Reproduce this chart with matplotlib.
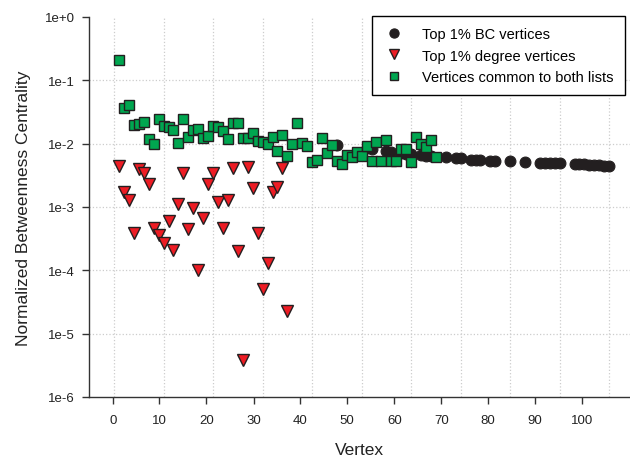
import matplotlib.pyplot as plt
from matplotlib.ticker import FixedLocator, NullFormatter

plt.rcParams['font.family'] = ['Liberation Sans', 'DejaVu Sans']

# vertices common to both lists (rank, normalized BC)
common_rank = list(range(1, 66))
common_bc = [0.21, 0.037, 0.041, 0.020, 0.0205, 0.022, 0.0117, 0.0100, 0.0245, 0.0193,
             0.0185, 0.0164, 0.0104, 0.0243, 0.0126, 0.0165, 0.017, 0.0123, 0.013, 0.0193,
             0.0185, 0.016, 0.0117, 0.021, 0.0212, 0.0125, 0.0123, 0.0146, 0.0109, 0.0105,
             0.0099, 0.0129, 0.0078, 0.0139, 0.0063, 0.0099, 0.021, 0.0101, 0.0093, 0.0051,
             0.0056, 0.0123, 0.0071, 0.0095, 0.0054, 0.0048, 0.0066, 0.0062, 0.0075, 0.0063,
             0.0091, 0.0054, 0.0105, 0.0054, 0.0116, 0.0054, 0.0054, 0.0082, 0.0082, 0.0051,
             0.0126, 0.0099, 0.0088, 0.0115, 0.0061]

# top 1% degree vertices (not in BC list)
degree_rank = list(range(1, 36))
degree_bc = [4.4e-3, 1.7e-3, 1.3e-3, 3.9e-4, 4.0e-3, 3.5e-3, 2.3e-3, 4.6e-4, 3.6e-4, 2.7e-4,
             6.0e-4, 2.1e-4, 1.1e-3, 3.5e-3, 4.5e-4, 9.8e-4, 1.0e-4, 6.8e-4, 2.3e-3, 3.4e-3,
             1.2e-3, 4.6e-4, 1.3e-3, 4.1e-3, 2.0e-4, 3.9e-6, 4.3e-3, 2.0e-3, 3.9e-4, 5.1e-5,
             1.3e-4, 1.75e-3, 2.1e-3, 4.1e-3, 2.3e-5]

# top 1% BC vertices (not in degree list)
bc_rank = [45, 51, 52, 55, 56, 58, 59, 60, 62, 63, 64, 67, 69, 70, 72, 73, 74, 76, 77, 80,
           83, 86, 87, 88, 89, 90, 93, 94, 95, 96, 97, 98, 99, 100]
bc_bc = [0.0096, 0.0085, 0.0083, 0.0077, 0.0075, 0.0070, 0.0069, 0.0068, 0.0066, 0.0065,
         0.0064, 0.0061, 0.0059, 0.0059, 0.0056, 0.0055, 0.0055, 0.0054, 0.0054, 0.0053,
         0.0052, 0.0050, 0.0050, 0.0049, 0.0049, 0.0049, 0.0047, 0.0047, 0.0047, 0.0046,
         0.0046, 0.0046, 0.0045, 0.0045]

# x tick labels sit slightly off the rank grid in the original
xtick_labels = [0, 10, 20, 30, 40, 50, 60, 70, 80, 90, 100]
xtick_pos = [-0.27, 9.14, 18.63, 28.2, 37.6, 47.1, 56.6, 66.1, 75.56, 85.05, 94.48]
ytick_labels = ["1e+0", "1e-1", "1e-2", "1e-3", "1e-4", "1e-5", "1e-6"]
ytick_pos = [1, 1e-1, 1e-2, 1e-3, 1e-4, 1e-5, 1e-6]
ygrid_pos = [1e-1, 1e-2, 1e-3, 1e-4, 1e-5]

edge = "#231f20"

fig = plt.figure(figsize=(6.3, 4.6), dpi=100)
ax = fig.add_axes([89 / 630, 62 / 460, 541 / 630, 380 / 460])

ax.plot(bc_rank, bc_bc, linestyle='none', marker='o', markersize=7.8,
        markerfacecolor=edge, markeredgecolor=edge, markeredgewidth=0.8,
        label="Top 1% BC vertices", zorder=3)
ax.plot(degree_rank, degree_bc, linestyle='none', marker='v', markersize=8.5,
        markerfacecolor="#ed1c24", markeredgecolor=edge, markeredgewidth=1.0,
        label="Top 1% degree vertices", zorder=4)
ax.plot(common_rank, common_bc, linestyle='none', marker='s', markersize=7,
        markerfacecolor="#00a650", markeredgecolor=edge, markeredgewidth=1.0,
        label="Vertices common to both lists", zorder=5)

ax.set_yscale('log')
ax.set_ylim(1e-6, 1)
ax.set_xlim(-5.06, 104.2)

ax.yaxis.set_major_locator(FixedLocator(ytick_pos))
ax.set_yticklabels(ytick_labels)
ax.yaxis.set_minor_locator(FixedLocator([]))
ax.set_xticks(xtick_pos)
ax.set_xticklabels([str(v) for v in xtick_labels])
ax.xaxis.set_minor_locator(FixedLocator(list(range(0, 101, 10))))
ax.xaxis.set_minor_formatter(NullFormatter())

ax.tick_params(axis='both', which='major', direction='out', length=5, width=1,
               color="#333333", labelsize=9.5, labelcolor="#222222")
ax.tick_params(axis='x', which='major', pad=7)
ax.tick_params(axis='y', which='major', pad=5)
ax.tick_params(axis='x', which='minor', length=0)

# dotted grid: vertical at every 10 ranks, horizontal at the inner decades
ax.grid(True, axis='x', which='minor', linestyle=':', color="#cccccc", linewidth=0.9)
for yv in ygrid_pos:
    ax.axhline(yv, linestyle=':', color="#cccccc", linewidth=0.9, zorder=0)
ax.set_axisbelow(True)

for side in ['top', 'right']:
    ax.spines[side].set_visible(False)
for side in ['left', 'bottom']:
    ax.spines[side].set_color("#333333")
    ax.spines[side].set_linewidth(1)

ax.set_xlabel("Vertex", fontsize=12.5, color="#222222", labelpad=12)
ax.set_ylabel("Normalized Betweenness Centrality", fontsize=12.5, color="#222222", labelpad=10)

leg = fig.legend(loc='upper left', bbox_to_anchor=(372 / 630, 1 - 17 / 460),
                 fontsize=10.5, frameon=True, fancybox=False, edgecolor="black",
                 framealpha=1, borderpad=0.75, labelspacing=0.52, handletextpad=1.2,
                 borderaxespad=0, markerscale=0.85, handlelength=1.5)
leg.get_frame().set_linewidth(1)

fig.savefig("out.png", dpi=100)
